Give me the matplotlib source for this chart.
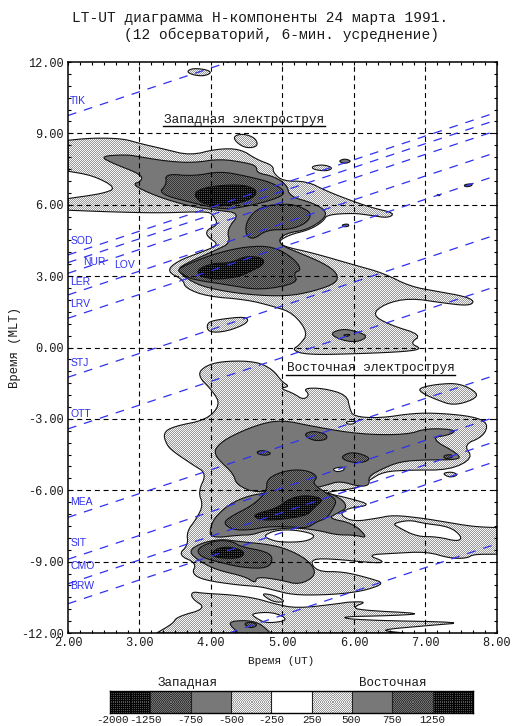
import numpy as np
import matplotlib
matplotlib.use("Agg")
import matplotlib.pyplot as plt
from matplotlib.path import Path
from matplotlib.patches import PathPatch

# ---------- data (UT hours, MLT hours) ----------
light_west = [(2.00,8.71),(2.35,8.81),(2.77,8.78),(3.01,8.57),(3.33,8.35),(3.71,8.07),(4.08,8.35),(4.41,8.35),(4.64,7.90),(4.87,7.65),(4.87,7.34),(5.01,6.99),(5.34,6.99),(5.62,6.57),(5.99,6.14),(6.27,5.86),(6.57,5.65),(6.48,5.44),(6.22,5.56),(5.99,5.65),(5.62,5.58),(5.57,5.30),(5.38,4.95),(5.10,4.74),(4.94,4.46),(5.01,4.25),(5.43,3.97),(5.99,3.48),(6.41,3.13),(6.78,2.57),(7.16,2.36),(7.55,2.15),(7.69,1.94),(7.60,1.75),(7.25,1.87),(6.78,2.08),(6.43,1.84),(6.25,1.38),(6.50,0.95),(6.95,0.53),(6.78,0.18),(6.95,-0.05),(6.74,-0.17),(6.08,-0.26),(5.34,-0.31),(5.13,-0.10),(5.24,0.11),(5.36,0.61),(5.15,1.45),(4.87,1.73),(4.50,2.01),(3.94,2.15),(3.64,2.50),(3.61,2.85),(3.38,3.20),(3.52,3.62),(3.89,4.04),(4.12,4.32),(3.94,4.67),(3.94,4.95),(4.10,5.16),(4.03,5.58),(3.94,5.72),(3.29,5.65),(2.59,5.70),(2.00,5.77),(2.00,6.26),(2.49,6.47),(2.68,6.71),(2.35,7.23),(2.00,7.41)]
light_a = [(3.66,11.61),(3.75,11.74),(3.94,11.68),(4.01,11.54),(3.89,11.40),(3.73,11.47)]
light_b = [(4.31,8.88),(4.45,8.99),(4.62,8.81),(4.66,8.46),(4.50,8.37),(4.36,8.60)]
light_d = [(5.41,7.62),(5.57,7.69),(5.71,7.55),(5.62,7.41),(5.43,7.48)]
light_e = [(3.94,1.03),(4.08,1.17),(4.50,1.31),(4.52,1.03),(4.22,0.67),(3.96,0.63)]
light_east = [(3.80,-1.15),(3.94,-0.73),(4.22,-0.56),(4.64,-0.59),(4.87,-0.94),(4.99,-1.43),(5.10,-1.64),(4.96,-1.71),(5.15,-1.92),(5.29,-2.20),(5.38,-1.99),(5.29,-1.71),(5.57,-1.71),(5.90,-1.99),(5.94,-2.55),(5.99,-2.90),(6.36,-2.97),(6.83,-2.76),(7.20,-2.76),(7.67,-2.90),(7.88,-3.18),(7.81,-3.74),(7.53,-4.09),(7.67,-4.65),(7.34,-5.15),(6.78,-5.15),(6.41,-5.22),(6.22,-5.57),(6.04,-5.92),(5.66,-6.06),(5.62,-6.13),(5.94,-6.34),(6.25,-6.62),(5.90,-6.76),(5.80,-7.04),(5.99,-7.32),(6.32,-7.18),(6.55,-7.04),(6.97,-7.18),(7.25,-7.32),(7.67,-7.53),(8.00,-7.57),(8.00,-8.69),(7.67,-8.69),(7.58,-8.86),(7.34,-8.86),(7.02,-8.58),(6.55,-8.65),(6.18,-8.72),(6.43,-9.00),(6.32,-9.07),(5.62,-8.86),(5.38,-8.93),(5.48,-9.42),(5.85,-9.42),(6.22,-9.70),(6.43,-9.91),(6.18,-10.19),(5.90,-10.33),(5.57,-10.40),(5.15,-10.40),(4.87,-10.19),(4.69,-10.05),(4.36,-9.98),(3.89,-9.77),(3.73,-9.49),(3.80,-9.07),(3.54,-8.72),(3.68,-8.30),(3.66,-7.74),(3.80,-7.18),(3.89,-6.62),(3.82,-6.06),(3.94,-5.29),(3.75,-4.94),(3.47,-4.37),(3.38,-4.09),(3.33,-3.60),(3.47,-3.32),(3.94,-3.04),(4.13,-2.41),(4.03,-1.85)]
light_bottom = [(3.73,-10.26),(3.89,-10.33),(4.31,-10.40),(4.64,-10.55),(4.87,-10.76),(5.20,-10.97),(5.80,-10.76),(5.94,-10.69),(6.18,-10.69),(5.99,-10.90),(6.08,-11.04),(6.99,-11.18),(6.55,-11.27),(5.76,-11.32),(6.08,-11.46),(7.60,-11.55),(7.02,-11.69),(6.32,-11.88),(6.71,-12.00),(3.24,-12.00),(3.47,-11.60),(3.52,-11.32),(3.94,-10.97),(3.73,-10.55)]
light_strip = [(4.69,-10.33),(4.87,-10.40),(5.06,-10.69),(4.87,-10.71)]
light_tr = [(6.90,-1.71),(7.16,-1.54),(7.48,-1.50),(7.74,-1.92),(7.67,-2.20),(7.39,-2.44),(7.16,-2.20),(6.95,-1.92)]
light_s = [(7.23,-5.29),(7.37,-5.22),(7.46,-5.36),(7.34,-5.47)]

mid_west = [(2.45,8.04),(2.82,8.11),(3.01,8.01),(3.38,7.83),(3.75,7.76),(4.13,7.93),(4.50,7.76),(4.64,7.62),(4.64,7.34),(4.87,7.20),(5.06,6.85),(5.10,6.35),(5.43,6.07),(5.62,5.72),(5.57,5.37),(5.34,4.95),(5.06,4.81),(4.94,4.53),(5.01,4.25),(5.24,3.97),(5.57,3.55),(5.77,3.13),(5.76,2.71),(5.43,2.36),(5.06,2.15),(4.50,2.22),(3.94,2.50),(3.68,2.85),(3.52,3.27),(3.66,3.55),(4.08,4.11),(4.27,4.39),(4.22,4.95),(4.41,5.65),(4.08,5.77),(3.71,5.93),(3.24,6.35),(2.89,6.85),(3.03,6.99),(3.03,7.27),(2.61,7.76)]
mid_c = [(5.78,7.83),(5.87,7.94),(5.97,7.83),(5.87,7.72)]
mid_f = [(5.66,0.60),(5.85,0.79),(6.04,0.67),(6.20,0.47),(6.04,0.21),(5.80,0.33)]
mid_g = [(7.54,6.85),(7.66,6.89),(7.64,6.78),(7.55,6.75)]
mid_h = [(5.83,5.16),(5.92,5.20),(5.93,5.09),(5.85,5.07)]
mid_e1 = [(4.06,-4.23),(4.22,-3.81),(4.64,-3.25),(4.99,-3.04),(5.43,-3.32),(6.08,-3.65),(6.74,-3.67),(7.02,-3.39),(7.44,-3.46),(7.34,-3.67),(7.06,-3.81),(7.48,-4.51),(7.46,-4.72),(7.02,-4.72),(6.64,-4.79),(6.36,-5.15),(6.20,-5.43),(6.22,-5.78),(6.08,-5.85),(5.80,-5.61),(5.62,-5.78),(5.43,-5.92),(4.64,-6.13),(4.36,-5.78),(4.31,-5.29),(4.13,-4.79),(4.06,-4.51)]
mid_e2 = [(4.64,-6.13),(5.15,-6.06),(5.62,-6.06),(5.85,-6.41),(5.90,-6.76),(5.76,-6.97),(5.64,-7.18),(5.99,-7.39),(6.20,-8.02),(6.01,-7.88),(5.76,-7.88),(5.48,-7.67),(5.15,-7.57),(4.78,-7.67),(4.57,-7.88),(4.41,-7.88),(3.99,-8.02),(3.99,-7.53),(4.08,-7.04),(4.31,-6.48)]
mid_e3 = [(3.68,-8.58),(3.85,-8.23),(4.13,-8.05),(4.41,-8.16),(4.87,-8.30),(5.15,-8.58),(5.38,-9.00),(5.48,-9.56),(5.24,-9.98),(4.97,-9.77),(4.64,-9.63),(4.62,-9.91),(4.48,-9.63),(4.08,-9.35),(3.85,-9.00)]
mid_bottom = [(4.22,-11.53),(4.50,-11.46),(4.69,-11.60),(4.83,-12.00),(4.38,-12.00)]

dark_w1 = [(3.36,7.31),(3.75,7.20),(4.13,7.41),(4.50,7.20),(4.87,6.92),(5.06,6.50),(4.87,6.21),(4.50,5.93),(4.17,5.79),(3.75,6.07),(3.26,6.47),(3.38,6.85)]
dark_w2 = [(4.69,5.93),(5.06,6.05),(5.24,5.93),(5.41,5.65),(5.34,5.23),(5.10,4.95),(4.78,4.95),(4.59,4.53),(4.48,4.74),(4.50,5.37)]
dark_w3 = [(3.52,3.27),(3.71,3.55),(4.08,3.97),(4.50,4.25),(4.87,4.25),(5.15,3.76),(5.27,3.27),(5.15,3.13),(5.22,2.71),(4.69,2.40),(4.22,2.64),(3.75,2.85),(3.61,3.06)]
dark_f = [(5.84,0.53),(5.96,0.56),(5.90,0.44)]
dark_e2 = [(4.78,-5.50),(5.06,-5.15),(5.34,-5.15),(5.50,-5.43),(5.41,-5.71),(5.62,-6.13),(5.76,-6.41),(5.71,-6.76),(5.62,-7.18),(5.48,-7.32),(5.34,-7.60),(5.10,-7.53),(4.78,-7.53),(4.55,-7.67),(4.31,-7.67),(4.17,-7.39),(4.27,-7.11),(4.59,-6.62),(4.78,-6.06)]
dark_e3 = [(3.80,-8.44),(4.08,-8.09),(4.31,-8.16),(4.41,-8.37),(4.78,-8.58),(4.87,-8.86),(4.80,-9.28),(4.45,-9.26),(4.08,-9.00),(3.85,-8.79)]
dark_s1 = [(5.29,-3.65),(5.43,-3.50),(5.62,-3.65),(5.62,-3.88),(5.43,-3.93)]
dark_s2 = [(5.81,-4.58),(5.99,-4.37),(6.25,-4.65),(6.11,-4.86),(5.90,-4.79)]
dark_s3 = [(4.64,-4.37),(4.73,-4.32),(4.85,-4.44),(4.78,-4.54),(4.66,-4.49)]
dark_s4 = [(7.25,-4.54),(7.37,-4.49),(7.38,-4.63),(7.27,-4.68)]
dark_s5 = [(4.45,-11.60),(4.57,-11.53),(4.66,-11.67),(4.55,-11.81)]

black_a = [(3.75,6.50),(3.94,6.75),(4.31,6.85),(4.55,6.78),(4.66,6.50),(4.50,6.14),(4.13,5.91),(3.85,6.07)]
black_b = [(3.80,3.27),(4.03,3.55),(4.27,3.55),(4.50,3.86),(4.73,3.76),(4.74,3.48),(4.55,3.20),(4.41,2.99),(4.08,2.85),(3.85,2.99)]
black_c = [(4.57,-7.04),(4.92,-6.76),(5.10,-6.34),(5.34,-6.20),(5.59,-6.37),(5.43,-6.76),(5.34,-7.07),(4.92,-7.25),(4.69,-7.25)]
black_d = [(3.99,-8.72),(4.08,-8.44),(4.27,-8.37),(4.48,-8.58),(4.41,-8.86),(4.13,-8.86)]
black_s = [(7.15,6.42),(7.21,6.42),(7.19,6.37)]

hole_1 = [(6.55,-7.39),(6.78,-7.25),(6.97,-7.39),(7.34,-7.53),(7.51,-7.95),(7.46,-8.16),(7.16,-7.95),(6.88,-7.95),(6.60,-7.53)]
hole_2 = [(4.75,-7.88),(4.92,-7.67),(5.20,-7.67),(5.48,-7.88),(5.34,-8.16),(4.96,-8.19),(4.78,-8.02)]
hole_3 = [(5.89,-3.11),(6.04,-3.11),(5.99,-3.22),(5.90,-3.22)]
hole_4 = [(5.69,-5.10),(5.85,-5.00),(5.87,-5.15),(5.76,-5.24)]
hole_5 = [(4.55,-11.18),(4.87,-11.11),(5.10,-11.46),(4.78,-11.60),(4.64,-11.39)]

light_level = [light_west, light_a, light_b, light_d, light_e, light_east, light_bottom, light_strip, light_tr, light_s]
mid_level = [mid_west, mid_c, mid_f, mid_g, mid_h, mid_e1, mid_e2, mid_e3, mid_bottom]
dark_level = [dark_w1, dark_w2, dark_w3, dark_f, dark_e2, dark_e3, dark_s1, dark_s2, dark_s3, dark_s4, dark_s5]
black_level = [black_a, black_b, black_c, black_d, black_s]
white_level = [hole_1, hole_2, hole_3, hole_4, hole_5]

station_names = ["TIK", "SOD", "NUR", "LOV", "LER", "LRV", "STJ", "OTT", "MEA", "SIT", "CMO", "BRW"]
station_offsets = [7.75, 1.89, 1.57, 1.12, 0.21, -0.77, -3.25, -5.42, -9.14, -10.90, -11.93, -12.77]
station_label_x = [2.03, 2.03, 2.21, 2.64, 2.03, 2.03, 2.03, 2.03, 2.03, 2.03, 2.03, 2.03]
station_label_y = [10.34, 4.49, 3.61, 3.48, 2.77, 1.84, -0.64, -2.79, -6.49, -8.22, -9.18, -10.02]

x_ticks = [2, 3, 4, 5, 6, 7, 8]
y_ticks = [-12, -9, -6, -3, 0, 3, 6, 9, 12]
bar_labels = ["-2000", "-1250", "-750", "-500", "-250", "250", "500", "750", "1250"]
bar_levels = [0, 1, 2, 3, 4, 3, 2, 1, 0]
bar_tick_pos = [0.07, 0.88, 2, 3, 4, 5, 5.98, 7, 8]

title_line1 = "LT-UT диаграмма H-компоненты 24 марта 1991."
title_line2 = "(12 обсерваторий, 6-мин. усреднение)"

# ---------- textures ----------
def texture(name, h, w):
    yy, xx = np.mgrid[0:h, 0:w]
    chk = (xx + yy) % 2 == 0
    t = np.ones((h, w))
    if name == "light":
        t = np.where(chk, 0.96, 0.6)
    elif name == "mid":
        t[:] = 0.47
    elif name == "dark":
        t = np.where(chk, 0.2, 0.46)
    elif name == "black":
        t = np.where((xx % 2 == 0) | (yy % 2 == 0), 0.03, 0.32)
    return t

def smooth(poly, n=2):
    """Round the traced contour corners; points on the frame stay pinned."""
    pts = list(poly)
    for _ in range(n):
        out = []
        m = len(pts)
        for i in range(m):
            p, q = pts[i], pts[(i + 1) % m]
            p_pin = p[0] <= 2 or p[0] >= 8 or p[1] <= -12
            q_pin = q[0] <= 2 or q[0] >= 8 or q[1] <= -12
            if p_pin:
                out.append(p)
            else:
                out.append((0.75 * p[0] + 0.25 * q[0], 0.75 * p[1] + 0.25 * q[1]))
            if not q_pin:
                out.append((0.25 * p[0] + 0.75 * q[0], 0.25 * p[1] + 0.75 * q[1]))
        pts = out
    return pts

plt.rcParams["font.family"] = ["Liberation Mono", "DejaVu Sans Mono"]
text_col = "#1a1a1a"

W, H = 512, 726
fig = plt.figure(figsize=(W / 100, H / 100), dpi=100, facecolor="white")
L, R, T, B = 68, 497, 62, 633
eps = 1e-4
ax = fig.add_axes([L / W, 1 - B / H, (R - L - eps) / W, (B - T - eps) / H])

pw, ph = R - L, B - T
for name, polys, z in [("light", light_level, 1), ("mid", mid_level, 2), ("dark", dark_level, 3), ("black", black_level, 4), ("white", white_level, 5)]:
    tex = texture(name, ph, pw)
    for poly in polys:
        pts = smooth(poly)
        path = Path(pts + [pts[0]], closed=True)
        im = ax.imshow(tex, extent=(2, 8, -12, 12), cmap="gray", vmin=0, vmax=1,
                       interpolation="nearest", aspect="auto", zorder=z)
        im.set_clip_path(PathPatch(path, transform=ax.transData))
        ax.add_patch(PathPatch(path, fill=False, ec="#111111", lw=0.8, zorder=z + 0.5))
ax.set_xlim(2, 8)
ax.set_ylim(-12, 12)

# grid
for v in x_ticks[1:-1]:
    ax.axvline(v, color="black", lw=0.8, ls=(0, (4.5, 3.4)), zorder=7)
for v in y_ticks[1:-1]:
    ax.axhline(v, color="black", lw=0.8, ls=(0, (4.5, 3.4)), zorder=7)

# station lines: MLT = UT + offset, wrapped at the top
x0, x1 = 2.0, 7.9
blue = "#3030f0"
dash = (0, (7.0, 6.4))
for name, c, lx, ly in zip(station_names, station_offsets, station_label_x, station_label_y):
    xe = min(x1, 12 - c)
    ax.plot([x0, xe], [x0 + c, xe + c], color=blue, lw=0.9, ls=dash, zorder=8)
    if xe < x1:
        ax.plot([xe, x1 + 0.1], [xe + c - 24, x1 + 0.1 + c - 24], color=blue, lw=0.9, ls=dash, zorder=8)
    ax.text(lx, ly, name, color=blue, fontsize=7.5, family=["Liberation Sans"], ha="left", va="center", zorder=9)

ax.set_xticks(x_ticks)
ax.set_xticklabels([f"{v:.2f}" for v in x_ticks], fontsize=8.6, color=text_col)
ax.set_yticks(y_ticks)
ax.set_yticklabels([f"{v:.2f}" for v in y_ticks], fontsize=8.6, color=text_col)
ax.set_xticks(np.arange(2, 8.01, 1 / 6), minor=True)
ax.set_yticks(np.arange(-12, 12.01, 0.5), minor=True)
ax.tick_params(axis="both", which="major", direction="in", top=True, right=True, length=2.5, width=0.8, pad=3)
ax.tick_params(axis="both", which="minor", direction="in", top=True, right=True, length=2.5, width=0.8)
for s in ax.spines.values():
    s.set_linewidth(1.1)
    s.set_zorder(10)
ax.set_xlabel("Время (UT)", fontsize=8, color=text_col, va="center")
ax.xaxis.set_label_coords(0.497, -28 / 571)
ax.set_ylabel("Время (MLT)", fontsize=8.8, color=text_col, va="center")
ax.yaxis.set_label_coords(-(68 - 15) / 429, 0.5)

fig.text(260 / W, 1 - 18 / H, title_line1, fontsize=10.45, ha="center", va="center", color=text_col)
fig.text(281 / W, 1 - 35 / H, title_line2, fontsize=10.45, ha="center", va="center", color=text_col)

ax.text(4.46, 9.58, "Западная электроструя", fontsize=9.2, ha="center", va="center", zorder=9, color=text_col)
ax.plot([3.33, 5.59], [9.29, 9.29], color="black", lw=1, zorder=9)
ax.text(6.23, -0.85, "Восточная электроструя", fontsize=9.2, ha="center", va="center", zorder=9, color=text_col)
ax.plot([5.05, 7.41], [-1.15, -1.15], color="black", lw=1, zorder=9)

# colour bar
cax = fig.add_axes([110 / W, 1 - 713 / H, 363 / W, 22 / H])
cnames = ["black", "dark", "mid", "light", "white"]
for i, lev in enumerate(bar_levels):
    n = cnames[lev]
    cax.imshow(texture(n, 22, 40), extent=(i, i + 1, 0, 1), cmap="gray", vmin=0, vmax=1,
               interpolation="nearest", aspect="auto")
cax.set_xlim(0, 9)
cax.set_ylim(0, 1)
cax.set_yticks([])
cax.set_xticks(bar_tick_pos)
cax.set_xticklabels(bar_labels, fontsize=7.8, color=text_col)
cax.tick_params(axis="x", length=0, pad=1.5)
for i in range(1, 9):
    cax.axvline(i, color="#222222", lw=0.8)
for s in cax.spines.values():
    s.set_linewidth(1)
cax.text(1.93, 1.36, "Западная", fontsize=9, ha="center", va="center", color=text_col)
cax.text(7.0, 1.36, "Восточная", fontsize=9, ha="center", va="center", color=text_col)

fig.savefig("out.png", dpi=100, facecolor="white")
